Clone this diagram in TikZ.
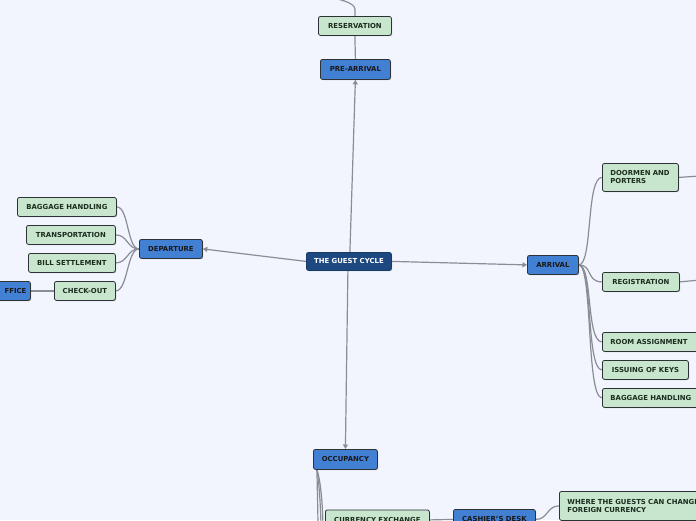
\documentclass[tikz,border=0pt]{standalone}
\usepackage{fontspec}
\setmainfont{DejaVu Sans}
\usetikzlibrary{arrows.meta,shadows}
\pgfdeclarelayer{bgl}
\pgfdeclarelayer{edges}
\pgfsetlayers{bgl,edges,main}
\definecolor{bgc}{RGB}{242,245,254}
\definecolor{rootc}{RGB}{30,72,128}
\definecolor{bluec}{RGB}{66,128,212}
\definecolor{greenc}{RGB}{200,230,205}
\definecolor{linec}{RGB}{138,140,150}
\definecolor{edgec}{RGB}{45,50,55}
\definecolor{gtext}{RGB}{28,44,30}
\tikzset{
  box/.style={draw=edgec, line width=0.8pt, rounded corners=2.2pt, anchor=north west,
    inner sep=0pt, font=\fontsize{6.9}{8}\selectfont\bfseries,
    drop shadow={shadow xshift=0.8pt, shadow yshift=-0.8pt, opacity=0.25, fill=black}},
  rootbox/.style={box, fill=rootc, text=white, draw=rootc!80!black},
  bluebox/.style={box, fill=bluec, text=black!90},
  greenbox/.style={box, fill=greenc, text=gtext},
  conn/.style={draw=linec, line width=1.2pt},
  arr/.style={conn, -{Triangle[width=5pt,length=4.5pt]}}
}
\begin{document}
\begin{tikzpicture}[x=1pt,y=-1pt]
\useasboundingbox (0,0) rectangle (696,520);
\begin{pgfonlayer}{bgl}
\fill[bgc] (0,0) rectangle (696,520);
\end{pgfonlayer}
\coordinate (topend) at (328,-2);
\coordinate (oc1) at (318,530);
\coordinate (oc2) at (321,530);
\coordinate (oc3) at (323,530);
\coordinate (dre) at (700,176);
\coordinate (rge) at (700,280);
% nodes
\node[rootbox, minimum width=85pt, minimum height=18pt] (root) at (306,252) {THE GUEST CYCLE};
\node[bluebox, minimum width=70pt, minimum height=20pt] (pre) at (320,59) {PRE-ARRIVAL};
\node[greenbox, minimum width=73pt, minimum height=19pt] (res) at (318,16) {RESERVATION};
\node[bluebox, minimum width=63pt, minimum height=19pt] (dep) at (139,239) {DEPARTURE};
\node[greenbox, minimum width=99pt, minimum height=19pt] (bh1) at (17,197) {BAGGAGE HANDLING};
\node[greenbox, minimum width=89pt, minimum height=19pt] (tra) at (26,225) {TRANSPORTATION};
\node[greenbox, minimum width=87pt, minimum height=19pt] (bill) at (28,253) {BILL SETTLEMENT};
\node[greenbox, minimum width=61pt, minimum height=19pt] (chk) at (54,281) {CHECK-OUT};
\node[bluebox, minimum width=40pt, minimum height=19pt, text width=32pt, align=right] (fo) at (-10,281) {FFICE};
\node[bluebox, minimum width=51pt, minimum height=19pt] (arr) at (527,255) {ARRIVAL};
\node[greenbox, minimum width=76pt, minimum height=28pt, text width=60pt, align=left] (door) at (602,163) {DOORMEN AND\\PORTERS};
\node[greenbox, minimum width=77pt, minimum height=19pt] (reg) at (602,272) {REGISTRATION};
\node[greenbox, minimum width=100pt, minimum height=19pt, text width=84pt, align=left] (room) at (602,332) {ROOM ASSIGNMENT};
\node[greenbox, minimum width=86pt, minimum height=19pt] (keys) at (602,360) {ISSUING OF KEYS};
\node[greenbox, minimum width=102pt, minimum height=19pt, text width=86pt, align=left] (bh2) at (602,388) {BAGGAGE HANDLING};
\node[bluebox, minimum width=64pt, minimum height=20pt] (occ) at (313,449) {OCCUPANCY};
\node[greenbox, minimum width=104pt, minimum height=20pt] (cur) at (325,509.5) {CURRENCY EXCHANGE};
\node[bluebox, minimum width=82pt, minimum height=20pt] (cash) at (453,509) {CASHIER'S DESK};
\node[greenbox, minimum width=150pt, minimum height=29pt, text width=134pt, align=left] (where) at (559,491) {WHERE THE GUESTS CAN CHANGE\\FOREIGN CURRENCY};
\begin{pgfonlayer}{edges}
\draw[arr] ([xshift=1pt]root.north) -- (pre.south);
\draw[arr] (root.west) -- (dep.east);
\draw[arr] (root.east) -- (arr.west);
\draw[arr] ([xshift=-1pt]root.south) -- (occ.north);
\draw[conn] (pre.north) -- (res.south);
\draw[conn] (res.north) -- ++(0,-7) .. controls +(0,-6) and +(10,0) .. (topend);
\foreach \c in {bh1,tra,bill,chk}{
  \draw[conn] (dep.west) .. controls +(-12,0) and +(12,0) .. (\c.east);
}
\draw[conn] (chk.west) -- (fo.east);
\foreach \c in {door,reg,room,keys,bh2}{
  \draw[conn] (arr.east) .. controls +(14,0) and +(-16,0) .. (\c.west);
}
\draw[conn] (door.east) -- (dre);
\draw[conn] (reg.east) -- (rge);
\draw[conn] ([xshift=4pt]occ.south west) .. controls +(0,12) and +(0,-20) .. (oc1);
\draw[conn] ([xshift=4pt]occ.south west) .. controls +(2,12) and +(0,-20) .. (oc2);
\draw[conn] ([xshift=4pt]occ.south west) .. controls +(4,12) and +(0,-20) .. (oc3);
\draw[conn] (cur.east) -- (cash.west);
\draw[conn] (cash.east) .. controls +(12,0) and +(-12,0) .. (where.west);
\end{pgfonlayer}
\end{tikzpicture}
\end{document}
